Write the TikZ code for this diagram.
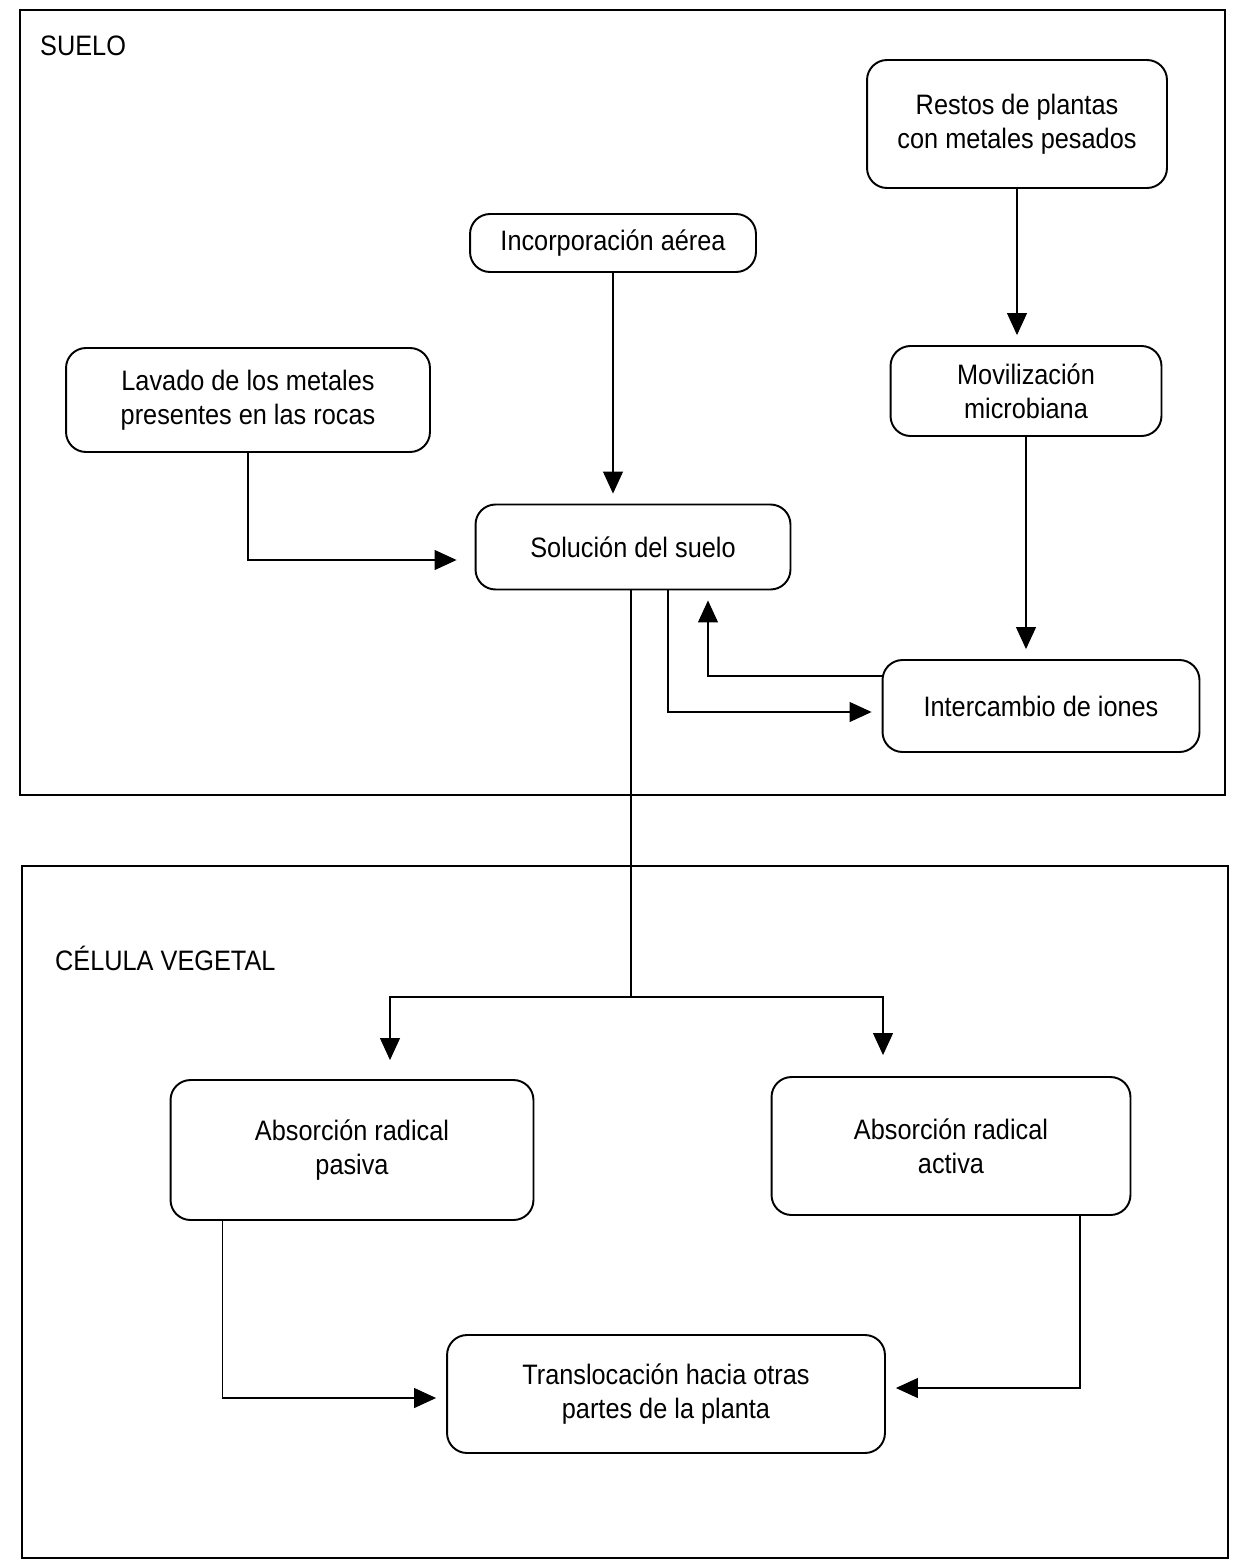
\documentclass[tikz,border=0pt]{standalone}
\usepackage{fontspec}
\setmainfont{Liberation Sans}[FakeStretch=0.9]
\usetikzlibrary{arrows.meta}

\begin{document}
\begin{tikzpicture}[x=0.02cm,y=-0.02cm]
      \tikzstyle{boite}=[draw, line width=1.1pt, rounded corners=0.4cm, align=center, font=\fontsize{16}{19.5}\selectfont]
      \tikzstyle{fleche}=[-{Triangle[length=0.44cm,width=0.4cm]}, line width=0.6pt, shorten >=0.2cm]
      \tikzstyle{cadre}=[draw, line width=1.1pt]
      \tikzstyle{titre}=[anchor=west, font=\fontsize{16}{19.5}\selectfont]

      \useasboundingbox (0,0) rectangle (1233,1565);
      \draw[cadre] (20,10) rectangle (1225,795);
      \draw[cadre] (22,866) rectangle (1228,1558);
      \node[titre] (suelo) at (34,46) {SUELO};
      \node[titre] (celula) at (49,958) {CÉLULA VEGETAL};

      \node[boite, minimum width=6cm, minimum height=2.56cm] (restos) at (1017,124) {Restos de plantas\\con metales pesados};
      \node[boite, minimum width=5.72cm, minimum height=1.16cm] (incorp) at (613,243) {Incorporación aérea};
      \node[boite, minimum width=7.28cm, minimum height=2.08cm] (lavado) at (248,400) {Lavado de los metales\\presentes en las rocas};
      \node[boite, minimum width=5.42cm, minimum height=1.8cm] (movil) at (1026,391) {Movilización\\microbiana};
      \node[boite, minimum width=6.3cm, minimum height=1.7cm] (solucion) at (633,547) {Solución del suelo};
      \node[boite, minimum width=6.34cm, minimum height=1.84cm] (intercambio) at (1041,706) {Intercambio de iones};
      \node[boite, minimum width=7.26cm, minimum height=2.8cm] (pasiva) at (352,1150) {Absorción radical\\pasiva};
      \node[boite, minimum width=7.18cm, minimum height=2.76cm] (activa) at (951,1146) {Absorción radical\\activa};
      \node[boite, minimum width=8.76cm, minimum height=2.36cm] (transloc) at (666,1394) {Translocación hacia otras\\partes de la planta};
      \coordinate (reparto) at (631,997);

      \draw[fleche] (restos.south) -- (restos.south |- movil.north);
      \draw[fleche] (incorp.south) -- (incorp.south |- solucion.north);
      \draw[fleche, shorten >=0.36cm] (lavado.south) |- ([yshift=-0.26cm]solucion.west);
      \draw[fleche] (movil.south) -- (movil.south |- intercambio.north);
      \draw[fleche] ([yshift=0.6cm]intercambio.west) -| ([xshift=1.5cm]solucion.south);
      \draw[fleche] ([xshift=0.7cm]solucion.south) |- ([yshift=-0.12cm]intercambio.west);
      \draw[line width=0.6pt] (solucion.south -| reparto) -- (reparto);
      \draw[fleche, shorten >=0.38cm] (reparto) -| ([xshift=0.76cm]pasiva.north);
      \draw[fleche, shorten >=0.42cm] (reparto) -| ([xshift=-1.36cm]activa.north);
      \draw[fleche] ([xshift=-2.6cm]pasiva.south) |- ([yshift=-0.08cm]transloc.west);
      \draw[fleche] ([xshift=2.58cm]activa.south) |- ([yshift=0.12cm]transloc.east);

    \end{tikzpicture}
\end{document}
